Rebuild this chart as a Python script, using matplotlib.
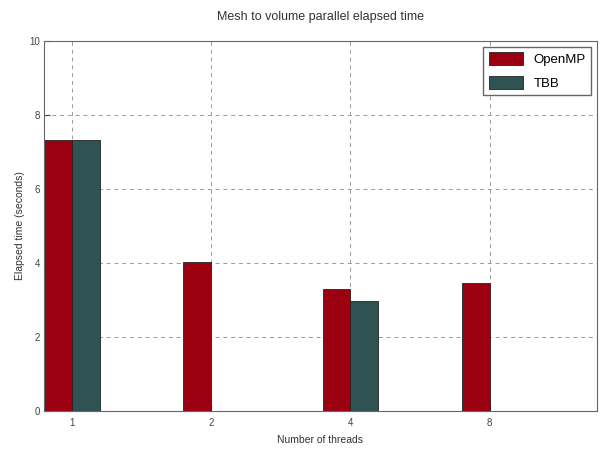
import matplotlib
matplotlib.use("Agg")
import matplotlib.pyplot as plt
import numpy as np

threads = ["1", "2", "4", "8"]
openmp = [7.32, 4.02, 3.30, 3.46]
tbb = [7.32, 0.0, 2.97, 0.0]

plt.rcParams["font.family"] = ["Liberation Sans", "DejaVu Sans"]

fig = plt.figure(figsize=(6.0, 4.51), dpi=100)
ax = fig.add_axes([0.0733, 0.0887, 0.9217, 0.8203])

x = np.arange(len(threads))
w = 0.2
ax.bar(x - w, openmp, width=w, align="edge", color="#9a0010",
       edgecolor="#222222", linewidth=0.6, label="OpenMP", zorder=2)
ax.bar(x, tbb, width=w, align="edge", color="#2f5252",
       edgecolor="#222222", linewidth=0.6, label="TBB", zorder=2)

ax.set_xlim(-0.2, 3.77)
ax.set_ylim(0, 10)
ax.set_xticks(x)
ax.set_xticklabels(threads)
ax.set_yticks(np.arange(0, 11, 2))
ax.tick_params(axis="x", direction="in", labelsize=7, length=4, colors="#444444", pad=5)
ax.tick_params(axis="y", direction="in", labelsize=7, length=4, colors="#444444", pad=3)
ax.grid(True, linestyle=(0, (4, 4)), color="#999999", linewidth=0.7, zorder=0)
for s in ax.spines.values():
    s.set_color("#666666")

ax.set_xlabel("Number of threads", fontsize=7.5, color="#333333", labelpad=5)
ax.set_ylabel("Elapsed time (seconds)", fontsize=7.5, color="#333333", labelpad=3)
ax.set_title("Mesh to volume parallel elapsed time", fontsize=9, color="#333333", pad=15)

leg = ax.legend(loc="upper right", fontsize=9.5, fancybox=False, framealpha=1,
                edgecolor="#666666", handlelength=2.6, handleheight=1.1,
                labelspacing=0.75, borderaxespad=0.45)

fig.savefig("out.png", dpi=100)
